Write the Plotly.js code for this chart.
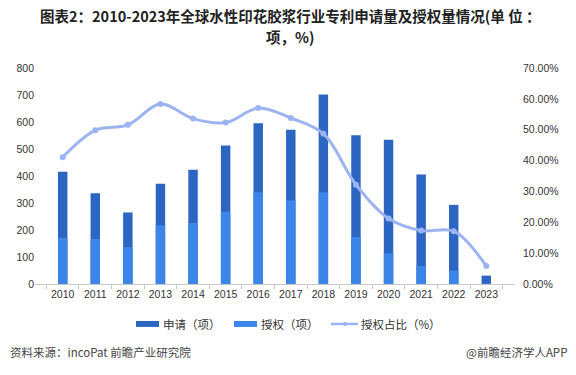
<!DOCTYPE html>
<html>
<head>
<meta charset="utf-8">
<script src="https://cdn.plot.ly/plotly-3.0.1.min.js"></script>
<style>html,body{margin:0;padding:0;background:#fff;}#chart{width:576px;height:375px;}</style>
</head>
<body>
<div id="chart"></div>
<script>
const years = ['2010','2011','2012','2013','2014','2015','2016','2017','2018','2019','2020','2021','2022','2023'];
const applications = [416, 336, 265, 371, 423, 513, 595, 571, 702, 551, 534, 406, 293, 31];
const grants = [171, 167, 137, 217, 226, 268, 340, 310, 340, 174, 113, 67, 49, 2];
const grantRatio = [41.1, 49.8, 51.6, 58.3, 53.6, 52.3, 57.0, 53.8, 48.7, 32.2, 21.2, 17.3, 17.1, 5.8];
const leftTicks = [0,100,200,300,400,500,600,700,800];
const rightTicks = [0,10,20,30,40,50,60,70];
const rightTickText = rightTicks.map(v => v.toFixed(2) + '%');

const cDark = '#2C66C2';
const cLight = '#3B86E8';
const cLine = '#9DB4F2';
const font = 'Liberation Sans, Arial, "Noto Sans CJK SC", sans-serif';
const cjk = '"Noto Sans CJK SC", sans-serif';

const traces = [
  {type:'bar', x: years, y: applications, name:'申请（项）', marker:{color:cDark}, width:0.29, hoverinfo:'skip'},
  {type:'bar', x: years, y: grants, name:'授权（项）', marker:{color:cLight}, width:0.29, hoverinfo:'skip'},
  {type:'scatter', mode:'lines+markers', x: years, y: grantRatio, yaxis:'y2', name:'授权占比（%）',
   line:{color:cLine, width:3, shape:'spline', smoothing:1}, marker:{color:cLine, size:6}, hoverinfo:'skip'}
];

const ML = 35, MR = 62, MT = 67.7, MB = 91;
const pw = 576-ML-MR, ph = 375-MT-MB;
function px(x){return (x-ML)/pw;}
function py(y){return (375-MB-y)/ph;}

const layout = {
  width:576, height:375,
  margin:{l:ML, r:MR, t:MT, b:MB},
  paper_bgcolor:'#fff', plot_bgcolor:'#fff',
  barmode:'overlay',
  showlegend:false,
  xaxis:{type:'category', showgrid:false, zeroline:false, showline:true, linecolor:'#c8c8c8', linewidth:1,
    ticks:'outside', tickson:'boundaries', ticklen:4, tickcolor:'#c8c8c8', tickangle:0,
    tickfont:{family:font, size:10.5, color:'#333'}},
  yaxis:{range:[0,800], tickvals:leftTicks, showgrid:false, zeroline:false, showline:false,
    ticks:'', tickfont:{family:font, size:10.5, color:'#333'}},
  yaxis2:{range:[0,70], overlaying:'y', side:'right', tickvals:rightTicks, ticktext:rightTickText,
    showgrid:false, zeroline:false, showline:false, ticks:'', ticklabelstandoff:8,
    tickfont:{family:font, size:10.5, color:'#333'}},
  shapes:[],
  annotations:[
    {xref:'paper', yref:'paper', x:px(290), y:py(15.5), xanchor:'center', yanchor:'middle', showarrow:false,
     text:'<b>图表2：2010-2023年全球水性印花胶浆行业专利申请量及授权量情况(单 位 ：</b>',
     font:{family:cjk, size:14.5, color:'#222'}},
    {xref:'paper', yref:'paper', x:px(290), y:py(36.5), xanchor:'center', yanchor:'middle', showarrow:false,
     text:'<b>项，%)</b>', font:{family:cjk, size:14.5, color:'#222'}},
    {xref:'paper', yref:'paper', x:px(8), y:py(352), xanchor:'left', yanchor:'middle', showarrow:false,
     text:'资料来源：incoPat 前瞻产业研究院', font:{family:cjk, size:11.5, color:'#444'}},
    {xref:'paper', yref:'paper', x:px(569), y:py(352), xanchor:'right', yanchor:'middle', showarrow:false,
     text:'@前瞻经济学人APP', font:{family:cjk, size:11.5, color:'#444'}}
  ]
};

const legY = 324;
const legItems = [
  {x0:136, x1:159, color:cDark, text:'申请（项）', tx:161, kind:'bar'},
  {x0:234, x1:257, color:cLight, text:'授权（项）', tx:259, kind:'bar'},
  {x0:331, x1:358, color:cLine, text:'授权占比（%）', tx:359, kind:'line'}
];
legItems.forEach(it => {
  if (it.kind === 'bar') {
    layout.shapes.push({type:'rect', xref:'paper', yref:'paper', x0:px(it.x0), x1:px(it.x1),
      y0:py(legY+3), y1:py(legY-3), fillcolor:it.color, line:{width:0}});
  } else {
    layout.shapes.push({type:'line', xref:'paper', yref:'paper', x0:px(it.x0), x1:px(it.x1),
      y0:py(legY), y1:py(legY), line:{color:it.color, width:2.5}});
    layout.shapes.push({type:'circle', xref:'paper', yref:'paper', x0:px(343), x1:px(347),
      y0:py(legY+2), y1:py(legY-2), fillcolor:it.color, line:{width:0}});
  }
  layout.annotations.push({xref:'paper', yref:'paper', x:px(it.tx), y:py(legY), xanchor:'left', yanchor:'middle',
    showarrow:false, text:it.text, font:{family:cjk, size:11.5, color:'#333'}});
});

Plotly.newPlot('chart', traces, layout, {displayModeBar:false, staticPlot:true});
</script>
</body>
</html>
